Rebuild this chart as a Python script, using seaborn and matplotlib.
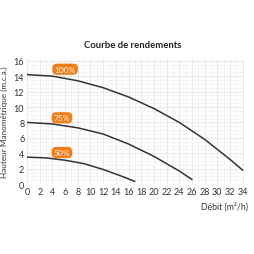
import matplotlib
matplotlib.use("Agg")
import matplotlib.pyplot as plt
import seaborn as sns
import pandas as pd
from matplotlib.ticker import MultipleLocator

x100 = [0, 4, 8, 12, 16, 20, 24, 28, 32, 34]
y100 = [14.2, 14.0, 13.4, 12.5, 11.3, 9.8, 8.0, 5.8, 3.2, 1.8]
x75 = [0, 4, 8, 12, 16, 20, 24, 26]
y75 = [8.0, 7.8, 7.3, 6.5, 5.2, 3.6, 1.7, 0.6]
x50 = [0, 3, 6, 9, 12, 15, 17]
y50 = [3.5, 3.4, 3.1, 2.65, 1.9, 1.0, 0.35]
labels = ["100%", "75%", "50%"]
label_x = [6.0, 5.5, 5.5]
label_y = [14.9, 8.6, 4.1]
xticks = list(range(0, 35, 2))
yticks = list(range(0, 17, 2))

sns.set_style("white")
plt.rcParams['font.family'] = ['Lato', 'DejaVu Sans']

df = pd.concat([
    pd.DataFrame({"x": x100, "y": y100, "s": "100%"}),
    pd.DataFrame({"x": x75, "y": y75, "s": "75%"}),
    pd.DataFrame({"x": x50, "y": y50, "s": "50%"}),
])

fig = plt.figure(figsize=(2.55, 2.55), dpi=100)
ax = fig.add_axes([0.106, 0.274, 0.851, 0.49])
sns.lineplot(data=df, x="x", y="y", hue="s", palette=["#333333"] * 3,
             legend=False, ax=ax, linewidth=1.1, sort=False)
ax.set_xlim(0, 34.2)
ax.set_ylim(0, 16.2)
ax.set_xticks(xticks)
ax.set_yticks(yticks)
ax.xaxis.set_minor_locator(MultipleLocator(1))
ax.yaxis.set_minor_locator(MultipleLocator(0.5))
ax.grid(True, which='major', color='#e4e4e4', linewidth=0.6)
ax.grid(True, which='minor', color='#f0f0f0', linewidth=0.5)
ax.set_axisbelow(True)
for s in ax.spines.values():
    s.set_visible(False)
ax.tick_params(axis='both', which='both', length=0, labelsize=6.5, colors='#333333', pad=2)
ax.set_xlabel("")
ax.set_ylabel("Hauteur Manométrique (m.c.a.)", fontsize=5.9, color='#333333', labelpad=4)
for lab, lx, ly in zip(labels, label_x, label_y):
    ax.text(lx, ly, lab, fontsize=6, color='white', ha='center', va='center',
            bbox=dict(boxstyle='round,pad=0.25,rounding_size=0.55', fc='#f27c16', ec='none'))
fig.text(0.88, 0.19, "Débit (m³/h)", fontsize=6.3, color='#333333', ha='center', va='center')
fig.text(0.52, 0.823, "Courbe de rendements", fontsize=6.8, fontweight='bold', color='#222222',
         ha='center', va='center')
fig.savefig("out.png", dpi=100, facecolor='white')
